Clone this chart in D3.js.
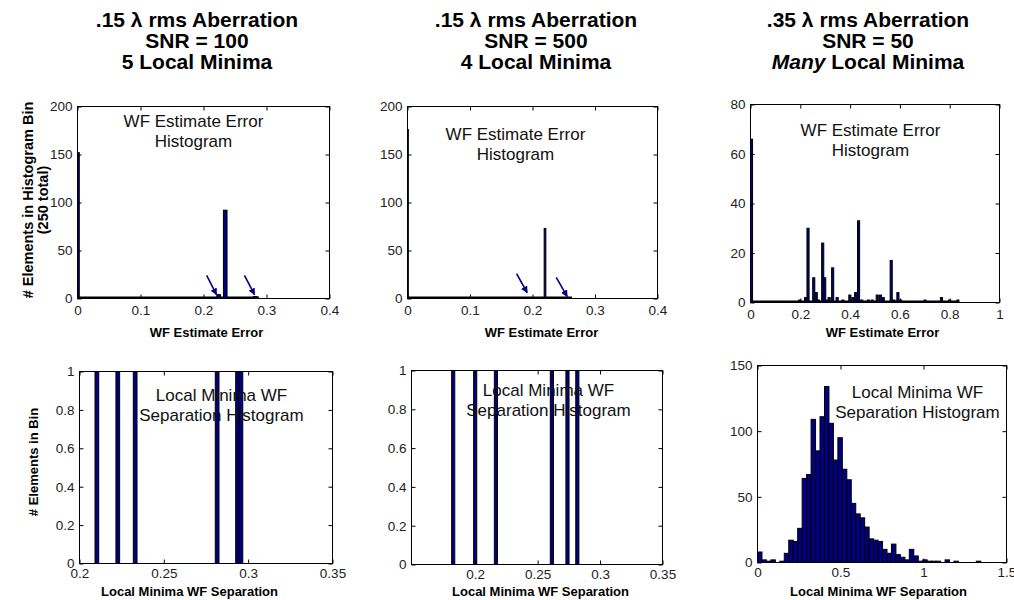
<!DOCTYPE html>
<html>
<head>
<meta charset="utf-8">
<script src="https://cdn.jsdelivr.net/npm/d3@7"></script>
<style>
body { margin: 0; background: #fff; }
text { font-family: "Liberation Sans", Arial, Helvetica, sans-serif; }
</style>
</head>
<body>
<svg id="chart" width="1014" height="600"></svg>
<script>
// ---- data ----
// top row: WF estimate error histograms (bin centre, count)
var p1Centers = [0, 0.2240, 0.2345, 0.2820];
var p1Counts = [152, 4, 92, 2];
var p1BinWidth = 0.0057;
var p1Range = [0, 0.288];

var p2Centers = [0, 0.2200, 0.2610];
var p2Counts = [176, 73, 1];
var p2BinWidth = 0.0027;
var p2Range = [0, 0.263];

var p3Centers = [0.004, 0.198, 0.221, 0.231, 0.254, 0.264, 0.273, 0.290, 0.298, 0.308, 0.316,
    0.330, 0.348, 0.371, 0.399, 0.411, 0.422, 0.434, 0.447, 0.473, 0.489, 0.509, 0.522,
    0.533, 0.565, 0.576, 0.592, 0.603, 0.701, 0.767, 0.800, 0.833];
var p3Counts = [66, 1, 2, 30, 10, 4, 1, 24, 10, 1, 2, 14, 2, 1, 3, 2, 4, 33, 1, 1, 1, 3, 3,
    2, 17, 1, 4, 1, 1, 2, 1, 1];
var p3BinWidth = 0.0085;
var p3Range = [0, 0.835];

// bottom row: local minima separation histograms
var p4Centers = [0.2103, 0.2227, 0.2330, 0.2816, 0.2937, 0.2957];
var p4Counts = [1, 1, 1, 1, 1, 1];
var p4BinWidth = 0.0022;

var p5Centers = [0.1824, 0.2000, 0.2166, 0.2614, 0.2739, 0.2818];
var p5Counts = [1, 1, 1, 1, 1, 1];
var p5BinWidth = 0.0025;

var p6Counts = [8, 2, 1, 2, 0, 1, 7, 17, 16, 26, 64, 67, 109, 85, 111, 134, 106, 78, 95, 71,
    63, 45, 37, 34, 27, 18, 17, 16, 10, 7, 14, 6, 4, 2, 10, 5, 1, 2, 1, 1,
    1, 0, 2, 0, 1, 0, 0, 0, 0, 1];
var p6BinWidth = 0.0269;
var p6Centers = p6Counts.map((c, i) => (i + 0.5) * p6BinWidth);

// arrows [x0, y0, x1, y1] in data units
var p1Arrows = [[0.205, 24, 0.2206, 4], [0.265, 24, 0.281, 4]];
var p2Arrows = [[0.1745, 26, 0.1915, 6], [0.238, 22, 0.2555, 2]];

// ticks
var errTicks = [0, 0.1, 0.2, 0.3, 0.4];
var errTicksWide = [0, 0.2, 0.4, 0.6, 0.8, 1];
var sepTicks = [0.2, 0.25, 0.3, 0.35];
var sepTicksWide = [0, 0.5, 1, 1.5];
var countTicks200 = [0, 50, 100, 150, 200];
var countTicks80 = [0, 20, 40, 60, 80];
var countTicks150 = [0, 50, 100, 150];
var unitTicks = [0, 0.2, 0.4, 0.6, 0.8, 1];

// text
var titleLeft = [['.15 λ rms Aberration'], ['SNR = 100'], ['5 Local Minima']];
var titleMid = [['.15 λ rms Aberration'], ['SNR = 500'], ['4 Local Minima']];
var titleRight = [['.35 λ rms Aberration'], ['SNR = 50'], ['*Many', ' Local Minima']];
var errNote = ['WF Estimate Error', 'Histogram'];
var sepNote = ['Local Minima WF', 'Separation Histogram'];
var errLabel = 'WF Estimate Error';
var sepLabel = 'Local Minima WF Separation';

var NAVY = '#000080';
var svg = d3.select('#chart');
var fmt = d3.format('~g');

var defs = svg.append('defs');
defs.append('marker')
    .attr('id', 'arrowhead')
    .attr('viewBox', '0 0 10 10')
    .attr('refX', 9).attr('refY', 5)
    .attr('markerUnits', 'userSpaceOnUse')
    .attr('markerWidth', 7).attr('markerHeight', 7)
    .attr('orient', 'auto')
    .append('path')
    .attr('d', 'M0,0 L10,5 L0,10 z')
    .attr('fill', NAVY);

var drawPanel = function (p) {
    var g = svg.append('g')
        .attr('transform', 'translate(' + (p.left + 0.5) + ',' + (p.top + 0.5) + ')');

    var x = d3.scaleLinear().domain(p.xDomain).range([0, p.width]);
    var y = d3.scaleLinear().domain(p.yDomain).range([p.height, 0]);

    defs.append('clipPath').attr('id', 'clip' + p.id)
        .append('rect').attr('width', p.width).attr('height', p.height);

    var plot = g.append('g').attr('clip-path', 'url(#clip' + p.id + ')');

    // empty bins show up as a heavy line on the baseline
    if (p.range) {
        plot.append('line')
            .attr('x1', x(p.range[0])).attr('x2', x(p.range[1]))
            .attr('y1', y(0)).attr('y2', y(0))
            .attr('stroke', '#000').attr('stroke-width', 4);
    }

    plot.selectAll('rect.bar')
        .data(d3.zip(p.centers, p.counts))
        .join('rect')
        .attr('class', 'bar')
        .attr('x', d => x(d[0] - p.binWidth / 2))
        .attr('width', d => x(d[0] + p.binWidth / 2) - x(d[0] - p.binWidth / 2))
        .attr('y', d => y(d[1]))
        .attr('height', d => y(0) - y(d[1]))
        .attr('fill', NAVY)
        .attr('stroke', '#000')
        .attr('stroke-width', 1);

    if (p.arrows) {
        g.selectAll('line.arrow')
            .data(p.arrows)
            .join('line')
            .attr('class', 'arrow')
            .attr('x1', d => x(d[0])).attr('y1', d => y(d[1]))
            .attr('x2', d => x(d[2])).attr('y2', d => y(d[3]))
            .attr('stroke', NAVY).attr('stroke-width', 1.6)
            .attr('marker-end', 'url(#arrowhead)');
    }

    // axes, ticks pointing inward on all four sides
    var styleAxis = function (sel) {
        sel.select('.domain').remove();
        sel.selectAll('line').attr('stroke', '#000');
        sel.selectAll('text')
            .attr('fill', '#222')
            .style('font-size', '13.5px')
            .style('font-family', '"Liberation Sans", Arial, sans-serif');
    };

    g.append('g').attr('transform', 'translate(0,' + p.height + ')')
        .call(d3.axisBottom(x).tickValues(p.xTicks).tickFormat(fmt)
            .tickSizeInner(-4).tickSizeOuter(0).tickPadding(p.xPad))
        .call(styleAxis);
    g.append('g')
        .call(d3.axisLeft(y).tickValues(p.yTicks).tickFormat(fmt)
            .tickSizeInner(-4).tickSizeOuter(0).tickPadding(5))
        .call(styleAxis);
    g.append('g')
        .call(d3.axisTop(x).tickValues(p.xTicks).tickFormat('')
            .tickSizeInner(-4).tickSizeOuter(0))
        .call(styleAxis);
    g.append('g').attr('transform', 'translate(' + p.width + ',0)')
        .call(d3.axisRight(y).tickValues(p.yTicks).tickFormat('')
            .tickSizeInner(-4).tickSizeOuter(0))
        .call(styleAxis);

    g.append('rect')
        .attr('width', p.width).attr('height', p.height)
        .attr('fill', 'none').attr('stroke', '#000').attr('stroke-width', 1);

    // note inside the axes
    g.append('text')
        .attr('text-anchor', 'middle')
        .style('font-size', '17px')
        .attr('fill', '#111')
        .selectAll('tspan')
        .data(p.note)
        .join('tspan')
        .attr('x', p.noteX)
        .attr('y', (d, i) => p.noteY + i * 20)
        .text(d => d);

    // x label
    g.append('text')
        .attr('x', p.xLabelX).attr('y', p.xLabelY)
        .attr('text-anchor', 'middle')
        .style('font-size', '13px').style('font-weight', 'bold')
        .text(p.xLabel);
};

var drawTitle = function (lines, cx) {
    var t = svg.append('text')
        .attr('text-anchor', 'middle')
        .style('font-size', '21px').style('font-weight', 'bold');
    lines.forEach((segs, i) => {
        segs.forEach((s, j) => {
            var italic = s[0] === '*';
            var ts = t.append('tspan').text(italic ? s.slice(1) : s);
            if (j === 0) ts.attr('x', cx).attr('y', 27 + i * 21);
            if (italic) ts.style('font-style', 'italic');
        });
    });
};

var drawYLabel = function (lines, cx, cy, size) {
    var t = svg.append('text')
        .attr('transform', 'translate(' + cx + ',' + cy + ') rotate(-90)')
        .attr('text-anchor', 'middle')
        .style('font-size', size + 'px').style('font-weight', 'bold');
    t.selectAll('tspan').data(lines).join('tspan')
        .attr('x', 0).attr('y', (d, i) => i * 15)
        .text(d => d);
};

drawPanel({ id: 1, left: 77, top: 106, width: 252, height: 192,
    xDomain: [0, 0.4], yDomain: [0, 200], xTicks: errTicks, yTicks: countTicks200, xPad: 7,
    centers: p1Centers, counts: p1Counts, binWidth: p1BinWidth, range: p1Range, arrows: p1Arrows,
    note: errNote, noteX: 116, noteY: 20, xLabel: errLabel, xLabelX: 129, xLabelY: 230 });

drawPanel({ id: 2, left: 407, top: 106, width: 250, height: 192,
    xDomain: [0, 0.4], yDomain: [0, 200], xTicks: errTicks, yTicks: countTicks200, xPad: 7,
    centers: p2Centers, counts: p2Counts, binWidth: p2BinWidth, range: p2Range, arrows: p2Arrows,
    note: errNote, noteX: 108, noteY: 33, xLabel: errLabel, xLabelX: 134, xLabelY: 230 });

drawPanel({ id: 3, left: 750, top: 104, width: 249, height: 198,
    xDomain: [0, 1], yDomain: [0, 80], xTicks: errTicksWide, yTicks: countTicks80, xPad: 7,
    centers: p3Centers, counts: p3Counts, binWidth: p3BinWidth, range: p3Range,
    note: errNote, noteX: 120, noteY: 31, xLabel: errLabel, xLabelX: 132, xLabelY: 232 });

drawPanel({ id: 4, left: 79, top: 371, width: 253, height: 192,
    xDomain: [0.2, 0.35], yDomain: [0, 1], xTicks: sepTicks, yTicks: unitTicks, xPad: 5,
    centers: p4Centers, counts: p4Counts, binWidth: p4BinWidth,
    note: sepNote, noteX: 142, noteY: 29, xLabel: sepLabel, xLabelX: 110, xLabelY: 224 });

drawPanel({ id: 5, left: 411, top: 370, width: 251, height: 194,
    xDomain: [0.149, 0.35], yDomain: [0, 1], xTicks: sepTicks, yTicks: unitTicks, xPad: 5,
    centers: p5Centers, counts: p5Counts, binWidth: p5BinWidth,
    note: sepNote, noteX: 137, noteY: 25, xLabel: sepLabel, xLabelX: 129, xLabelY: 225 });

drawPanel({ id: 6, left: 757, top: 365, width: 249, height: 197,
    xDomain: [0, 1.5], yDomain: [0, 150], xTicks: sepTicksWide, yTicks: countTicks150, xPad: 5,
    centers: p6Centers, counts: p6Counts, binWidth: p6BinWidth,
    note: sepNote, noteX: 160, noteY: 32, xLabel: sepLabel, xLabelX: 121, xLabelY: 230 });

drawTitle(titleLeft, 197);
drawTitle(titleMid, 536);
drawTitle(titleRight, 868);

drawYLabel(['# Elements in Histogram Bin', '(250 total)'], 33, 200, 14.5);
drawYLabel(['# Elements in Bin'], 38, 462, 13);
</script>
</body>
</html>
